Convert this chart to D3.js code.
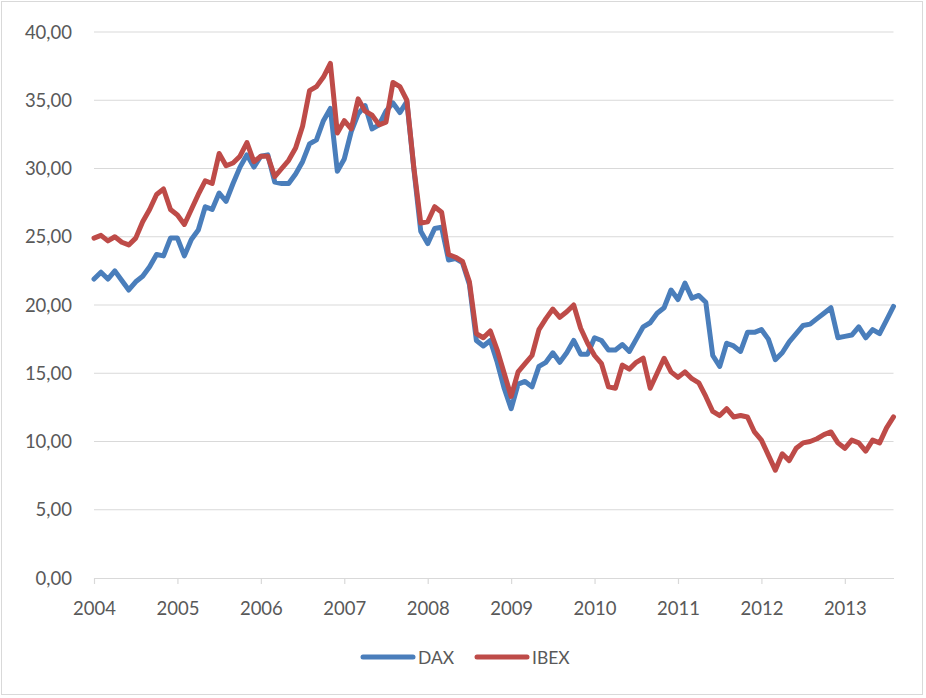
<!DOCTYPE html>
<html>
<head>
<meta charset="utf-8">
<script src="https://cdn.jsdelivr.net/npm/d3@7"></script>
<style>
  body { margin: 0; background: #fff; }
  svg text { font-family: Lato, "Open Sans", sans-serif; fill: #595959; }
</style>
</head>
<body>
<svg id="chart" width="926" height="698"></svg>
<script>
// monthly values, Jan 2004 .. Aug 2013
var years = ["2004", "2005", "2006", "2007", "2008", "2009", "2010", "2011", "2012", "2013"];
var yTicks = [0, 5, 10, 15, 20, 25, 30, 35, 40];

var dax = [
    21.9, 22.4, 21.9, 22.5, 21.8, 21.1, 21.7, 22.1, 22.8, 23.7, 23.6, 24.9,
    24.9, 23.6, 24.8, 25.5, 27.2, 27.0, 28.2, 27.6, 28.9, 30.1, 31.0, 30.1,
    30.9, 31.0, 29.0, 28.9, 28.9, 29.6, 30.5, 31.8, 32.1, 33.5, 34.4, 29.8,
    30.7, 32.7, 34.0, 34.6, 32.9, 33.2, 34.2, 34.8, 34.1, 34.9, 30.0, 25.4,
    24.5, 25.6, 25.7, 23.3, 23.4, 23.1, 21.5, 17.4, 17.0, 17.4, 15.8, 13.9,
    12.4, 14.2, 14.4, 14.0, 15.5, 15.8, 16.5, 15.8, 16.5, 17.4, 16.4, 16.4,
    17.6, 17.4, 16.7, 16.7, 17.1, 16.6, 17.5, 18.4, 18.7, 19.4, 19.8, 21.1,
    20.4, 21.6, 20.5, 20.7, 20.2, 16.3, 15.5, 17.2, 17.0, 16.6, 18.0, 18.0,
    18.2, 17.5, 16.0, 16.5, 17.3, 17.9, 18.5, 18.6, 19.0, 19.4, 19.8, 17.6,
    17.7, 17.8, 18.4, 17.6, 18.2, 17.9, 18.9, 19.9
];

var ibex = [
    24.9, 25.1, 24.7, 25.0, 24.6, 24.4, 24.9, 26.1, 27.0, 28.1, 28.5, 27.0,
    26.6, 25.9, 27.0, 28.1, 29.1, 28.9, 31.1, 30.2, 30.4, 30.9, 31.9, 30.5,
    30.9, 30.9, 29.4, 30.0, 30.6, 31.5, 33.1, 35.7, 36.0, 36.7, 37.7, 32.6,
    33.5, 32.9, 35.1, 34.2, 33.9, 33.2, 33.4, 36.3, 36.0, 35.0, 30.1, 26.0,
    26.1, 27.2, 26.8, 23.7, 23.5, 23.2, 21.7, 17.9, 17.6, 18.1, 16.7, 15.0,
    13.3, 15.1, 15.7, 16.3, 18.2, 19.0, 19.7, 19.1, 19.5, 20.0, 18.3, 17.2,
    16.3, 15.7, 14.0, 13.9, 15.6, 15.3, 15.8, 16.1, 13.9, 15.0, 16.1, 15.1,
    14.7, 15.1, 14.6, 14.3, 13.3, 12.2, 11.9, 12.4, 11.8, 11.9, 11.8, 10.7,
    10.1, 9.0, 7.9, 9.1, 8.6, 9.5, 9.9, 10.0, 10.2, 10.5, 10.7, 9.9,
    9.5, 10.1, 9.9, 9.3, 10.1, 9.9, 11.0, 11.8
];

var seriesNames = ["DAX", "IBEX"];
var seriesColors = ["#4a7ebb", "#be4b48"];

var svg = d3.select("#chart");

// chart frame
svg.append("rect")
    .attr("x", 1.5).attr("y", 1.5)
    .attr("width", 921).attr("height", 693)
    .attr("fill", "#fff")
    .attr("stroke", "#d9d9d9");

var x = d3.scaleLinear().domain([0, dax.length - 1]).range([94, 893.5]),
    y = d3.scaleLinear().domain([0, 40]).range([578, 32]),
    fmt = function(d) { return d3.format(".2f")(d).replace(".", ","); };

// gridlines
svg.append("g").selectAll("line")
    .data(yTicks.slice(1))
    .enter().append("line")
    .attr("x1", x.range()[0]).attr("x2", x.range()[1])
    .attr("y1", function(d) { return y(d); })
    .attr("y2", function(d) { return y(d); })
    .attr("stroke", "#d9d9d9")
    .attr("stroke-width", 1.2);

// y labels
svg.append("g").selectAll("text")
    .data(yTicks)
    .enter().append("text")
    .attr("x", 72)
    .attr("y", function(d) { return y(d) + 6.5; })
    .attr("text-anchor", "end")
    .style("font-size", "18.5px")
    .text(fmt);

// x axis
var xAxis = d3.axisBottom(x)
    .tickValues(years.map(function(d, i) { return i * 12; }))
    .tickFormat(function(d) { return years[d / 12]; })
    .tickSizeInner(6)
    .tickSizeOuter(0)
    .tickPadding(18);

var gx = svg.append("g")
    .attr("transform", "translate(0," + y(0) + ")")
    .call(xAxis);
gx.select(".domain").attr("stroke", "#d9d9d9").attr("stroke-width", 1.2);
gx.selectAll(".tick line").attr("stroke", "#d9d9d9").attr("stroke-width", 1.2);
gx.selectAll(".tick text")
    .style("font-size", "18.5px")
    .style("font-family", "Lato, 'Open Sans', sans-serif")
    .attr("fill", "#595959");

// lines
var line = d3.line()
    .x(function(d, i) { return x(i); })
    .y(function(d) { return y(d); });

[dax, ibex].forEach(function(s, k) {
    svg.append("path")
        .datum(s)
        .attr("fill", "none")
        .attr("stroke", seriesColors[k])
        .attr("stroke-width", 5)
        .attr("stroke-linejoin", "round")
        .attr("stroke-linecap", "round")
        .attr("d", line);
});

// legend
var legend = svg.append("g").attr("transform", "translate(363,657)");
var items = legend.selectAll("g")
    .data(seriesNames)
    .enter().append("g")
    .attr("transform", function(d, i) { return "translate(" + (i * 114) + ",0)"; });
items.append("line")
    .attr("x1", 0).attr("x2", 50)
    .attr("stroke", function(d, i) { return seriesColors[i]; })
    .attr("stroke-width", 5)
    .attr("stroke-linecap", "round");
items.append("text")
    .attr("x", 55)
    .attr("y", 7)
    .style("font-size", "17.5px")
    .text(function(d) { return d; });
</script>
</body>
</html>
